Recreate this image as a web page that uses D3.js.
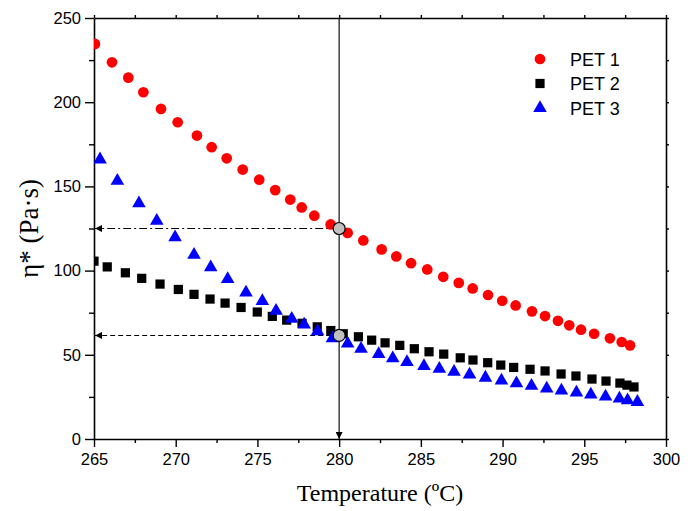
<!DOCTYPE html>
<html lang="en">
  <head>
    <meta charset="UTF-8" />
    <title>Complex viscosity vs temperature</title>
    <script src="https://d3js.org/d3.v7.min.js"></script>
    <style>
      body { margin: 0; background: #fff; }
      svg { display: block; }
      .tick text { font-family: "Liberation Sans", Arial, sans-serif; font-size: 16.5px; fill: #000; }
      .title { font-family: "Liberation Serif", "Times New Roman", serif; font-size: 24px; fill: #000; }
      .ytitle { font-size: 27px; }
      .legend text { font-family: "Liberation Sans", Arial, sans-serif; font-size: 18px; fill: #000; }
    </style>
  </head>
  <body>
    <script>
      // PET 1 (red circles)
      const pet1T = [265.06, 266.10, 267.10, 268.02, 269.10, 270.12, 271.30, 272.20, 273.12, 274.10,
        275.11, 276.09, 277.01, 277.71, 278.48, 279.48, 280.52, 281.48, 282.60, 283.50,
        284.40, 285.39, 286.37, 287.32, 288.17, 289.11, 289.98, 290.80, 291.80, 292.60,
        293.39, 294.08, 294.80, 295.60, 296.57, 297.29, 297.80];
      const pet1V = [234.6, 223.7, 214.6, 205.9, 196.0, 188.1, 180.2, 173.3, 166.7, 160.0,
        154.0, 147.8, 142.2, 137.5, 132.6, 127.4, 122.4, 117.9, 112.6, 108.4,
        104.4, 100.7, 96.3, 92.7, 89.4, 85.5, 82.1, 79.3, 75.8, 73.0,
        70.2, 67.5, 64.9, 62.5, 59.8, 57.6, 55.6];

      // PET 2 (black squares)
      const pet2T = [265.0, 265.81, 266.92, 267.92, 269.04, 270.16, 271.12, 272.10, 273.02, 274.00,
        274.99, 275.91, 276.79, 277.73, 278.66, 279.49, 280.25, 281.18, 281.99, 282.81,
        283.71, 284.60, 285.50, 286.40, 287.41, 288.19, 289.09, 289.89, 290.68, 291.68,
        292.60, 293.58, 294.49, 295.47, 296.33, 297.18, 297.61, 298.04];
      const pet2V = [105.6, 102.2, 98.7, 95.4, 92.0, 88.8, 85.9, 83.1, 80.7, 78.1,
        75.4, 72.8, 70.6, 68.7, 66.6, 64.4, 62.5, 60.7, 58.7, 57.1,
        55.6, 53.6, 51.8, 50.4, 48.2, 46.9, 45.3, 43.9, 42.5, 41.4,
        40.4, 38.6, 37.4, 35.6, 34.4, 33.2, 32.0, 30.9];

      // PET 3 (blue triangles)
      const pet3T = [265.37, 266.43, 267.75, 268.84, 269.96, 271.12, 272.14, 273.18, 274.30, 275.30,
        276.14, 277.10, 277.86, 278.68, 279.59, 280.52, 281.34, 282.42, 283.28, 284.15,
        285.19, 286.13, 287.03, 287.98, 288.95, 289.93, 290.85, 291.77, 292.70, 293.60,
        294.52, 295.40, 296.30, 297.15, 297.65, 298.25];
      const pet3V = [166.0, 153.3, 139.9, 129.5, 119.7, 109.4, 101.9, 94.9, 87.0, 81.9,
        76.1, 71.4, 67.9, 63.9, 59.8, 56.6, 53.5, 50.4, 47.9, 45.7,
        43.3, 41.7, 39.9, 38.2, 36.4, 34.7, 33.0, 31.6, 30.0, 28.8,
        27.5, 26.4, 25.2, 24.0, 23.0, 22.0];

      const seriesNames = ["PET 1", "PET 2", "PET 3"];
      const seriesColors = ["#ff0000", "#000000", "#0000ff"];

      // reference temperature and the two read-off values
      const refT = 280;
      const refV = [125, 61.5];

      const xTicks = [265, 270, 275, 280, 285, 290, 295, 300];
      const yTicks = [0, 50, 100, 150, 200, 250];

      const W = 694, H = 511;
      const margin = { top: 18, right: 28, bottom: 72, left: 94 };
      const width = W - margin.left - margin.right;
      const height = H - margin.top - margin.bottom;

      const svg = d3.select("body").append("svg").attr("width", W).attr("height", H);

      const defs = svg.append("defs");
      defs.append("clipPath").attr("id", "plot-clip")
        .append("rect").attr("width", width).attr("height", height);
      defs.append("marker")
        .attr("id", "arrow")
        .attr("viewBox", "0 0 10 10")
        .attr("refX", 10).attr("refY", 5)
        .attr("markerWidth", 9).attr("markerHeight", 7)
        .attr("markerUnits", "userSpaceOnUse")
        .attr("orient", "auto")
        .append("path").attr("d", "M0,0 L10,5 L0,10 Z").attr("fill", "#000");

      const g = svg.append("g").attr("transform", `translate(${margin.left},${margin.top})`);

      const x = d3.scaleLinear().domain([265, 300]).range([0, width]);
      const y = d3.scaleLinear().domain([0, 250]).range([height, 0]);

      const xMinor = d3.range(265, 300.1, 2.5).filter(v => !xTicks.includes(v));
      const yMinor = d3.range(0, 250.1, 25).filter(v => !yTicks.includes(v));

      function styleAxis(sel) {
        sel.select(".domain").attr("stroke", "#000").attr("stroke-width", 1.6);
        sel.selectAll(".tick line").attr("stroke", "#000").attr("stroke-width", 1.4);
      }

      // bottom & left axes (labelled)
      g.append("g").attr("transform", `translate(0,${height})`)
        .call(d3.axisBottom(x).tickValues(xTicks).tickSize(8).tickSizeOuter(0).tickPadding(6).tickFormat(d3.format("d")))
        .call(styleAxis);
      g.append("g").attr("transform", `translate(0,${height})`)
        .call(d3.axisBottom(x).tickValues(xMinor).tickSize(4).tickFormat(""))
        .call(s => s.select(".domain").remove())
        .call(styleAxis);
      g.append("g")
        .call(d3.axisLeft(y).tickValues(yTicks).tickSize(9).tickSizeOuter(0).tickPadding(4).tickFormat(d3.format("d")))
        .call(styleAxis);
      g.append("g")
        .call(d3.axisLeft(y).tickValues(yMinor).tickSize(5).tickFormat(""))
        .call(s => s.select(".domain").remove())
        .call(styleAxis);

      // top & right mirror axes
      g.append("g")
        .call(d3.axisTop(x).tickValues(d3.range(265, 300.1, 2.5)).tickSize(3).tickSizeOuter(0).tickFormat(""))
        .call(styleAxis);
      g.append("g").attr("transform", `translate(${width},0)`)
        .call(d3.axisRight(y).tickValues(d3.range(0, 250.1, 25)).tickSize(3).tickSizeOuter(0).tickFormat(""))
        .call(styleAxis);

      // guide lines
      const guides = g.append("g");
      guides.append("line")
        .attr("x1", x(refT)).attr("x2", x(refT))
        .attr("y1", 0).attr("y2", y(0))
        .attr("stroke", "#222").attr("stroke-width", 1.3)
        .attr("marker-end", "url(#arrow)");
      guides.append("line")
        .attr("x1", x(refT)).attr("x2", x(265) + 1)
        .attr("y1", y(refV[0])).attr("y2", y(refV[0]))
        .attr("stroke", "#000").attr("stroke-width", 1.1)
        .attr("stroke-dasharray", "8,3,2,3")
        .attr("marker-end", "url(#arrow)");
      guides.append("line")
        .attr("x1", x(refT)).attr("x2", x(265) + 1)
        .attr("y1", y(refV[1])).attr("y2", y(refV[1]))
        .attr("stroke", "#000").attr("stroke-width", 1.1)
        .attr("stroke-dasharray", "5,3")
        .attr("marker-end", "url(#arrow)");

      // data
      const series = [
        { name: seriesNames[0], color: seriesColors[0], type: d3.symbolCircle, size: 90, T: pet1T, V: pet1V },
        { name: seriesNames[1], color: seriesColors[1], type: d3.symbolSquare, size: 85, T: pet2T, V: pet2V },
        { name: seriesNames[2], color: seriesColors[2], type: d3.symbolTriangle, size: 80, T: pet3T, V: pet3V }
      ];

      const plot = g.append("g").attr("clip-path", "url(#plot-clip)");
      series.forEach(s => {
        const pts = s.T.map((t, i) => [t, s.V[i]]);
        plot.append("g").selectAll("path")
          .data(pts)
          .enter()
          .append("path")
          .attr("transform", d => `translate(${x(d[0])},${y(d[1])})`)
          .attr("d", d3.symbol().type(s.type).size(s.size))
          .attr("fill", s.color);
      });

      // grey read-off points
      g.append("g").selectAll("circle")
        .data(refV)
        .enter()
        .append("circle")
        .attr("cx", x(refT))
        .attr("cy", d => y(d))
        .attr("r", 6)
        .attr("fill", "#c0c0c0")
        .attr("stroke", "#000")
        .attr("stroke-width", 1.2);

      // legend
      const legend = g.append("g").attr("class", "legend")
        .selectAll("g")
        .data(series)
        .enter()
        .append("g")
        .attr("transform", (d, i) => `translate(${446},${41 + i * 24.5})`);
      legend.append("path")
        .attr("d", d => d3.symbol().type(d.type).size(d.size)())
        .attr("fill", d => d.color);
      legend.append("text")
        .attr("x", 30)
        .attr("y", 6.5)
        .text(d => d.name);

      // axis titles
      svg.append("text").attr("class", "title")
        .attr("x", margin.left + width / 2)
        .attr("y", H - 10)
        .attr("text-anchor", "middle")
        .text("Temperature (ºC)");
      svg.append("text").attr("class", "title ytitle")
        .attr("transform", `translate(38,${margin.top + height / 2}) rotate(-90)`)
        .attr("text-anchor", "middle")
        .text("η* (Pa·s)");
    </script>
  </body>
</html>
